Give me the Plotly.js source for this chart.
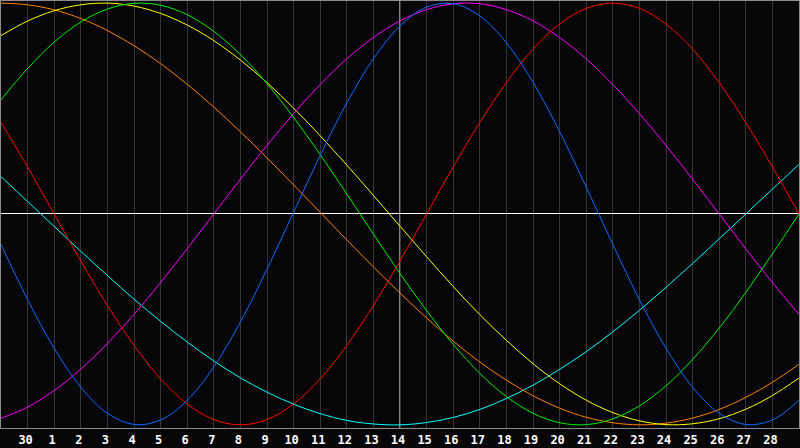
<!DOCTYPE html>
<html><head><meta charset="utf-8">
<script src="https://cdn.plot.ly/plotly-3.0.1.min.js"></script>
<style>html,body{margin:0;padding:0;background:#060608;overflow:hidden}#chart{width:800px;height:448px}</style>
</head><body><div id="chart"></div>
<script>
// day positions (0..30) and tick labels at positions 1..29
const dayIndex = [0,1,2,3,4,5,6,7,8,9,10,11,12,13,14,15,16,17,18,19,20,21,22,23,24,25,26,27,28,29,30];
const tickPositions = [1,2,3,4,5,6,7,8,9,10,11,12,13,14,15,16,17,18,19,20,21,22,23,24,25,26,27,28,29];
const tickLabels = ["30","1","2","3","4","5","6","7","8","9","10","11","12","13","14","15","16","17","18","19","20","21","22","23","24","25","26","27","28"];
const todayLabel = "14";

const physical = [-0.144,-0.406,-0.637,-0.822,-0.945,-0.998,-0.977,-0.884,-0.725,-0.512,-0.262,0.008,0.278,0.527,0.736,0.892,0.981,0.997,0.939,0.812,0.625,0.391,0.128,-0.144,-0.406,-0.637,-0.822,-0.945,-0.998,-0.977,-0.884];
const emotional = [0.434,0.223,0,-0.223,-0.434,-0.623,-0.782,-0.901,-0.975,-1,-0.975,-0.901,-0.782,-0.623,-0.434,-0.223,0,0.223,0.434,0.623,0.782,0.901,0.975,1,0.975,0.901,0.782,0.623,0.434,0.223,0];
const intellectual = [0.541,0.690,0.815,0.910,0.972,0.999,0.990,0.945,0.866,0.756,0.618,0.458,0.282,0.095,-0.095,-0.282,-0.458,-0.618,-0.756,-0.866,-0.945,-0.990,-0.999,-0.972,-0.910,-0.815,-0.690,-0.541,-0.372,-0.189,0];
const intuitive = [-0.969,-0.916,-0.837,-0.736,-0.614,-0.476,-0.325,-0.165,0,0.165,0.325,0.476,0.614,0.736,0.837,0.916,0.969,0.997,0.997,0.969,0.916,0.837,0.736,0.614,0.476,0.325,0.165,0,-0.165,-0.325,-0.476];
const aesthetic = [0.846,0.915,0.964,0.992,1.000,0.986,0.951,0.896,0.822,0.730,0.623,0.502,0.371,0.232,0.088,-0.058,-0.203,-0.344,-0.477,-0.599,-0.710,-0.805,-0.883,-0.942,-0.981,-0.999,-0.995,-0.971,-0.926,-0.861,-0.778];
const awareness = [1.000,0.992,0.968,0.927,0.870,0.798,0.713,0.615,0.507,0.390,0.266,0.138,0.008,-0.123,-0.251,-0.375,-0.493,-0.603,-0.702,-0.788,-0.862,-0.921,-0.964,-0.990,-1.000,-0.992,-0.968,-0.927,-0.870,-0.798,-0.713];
const spiritual = [0.177,0.059,-0.059,-0.177,-0.292,-0.404,-0.509,-0.607,-0.697,-0.777,-0.845,-0.902,-0.947,-0.979,-0.996,-1.000,-0.989,-0.965,-0.927,-0.875,-0.812,-0.737,-0.653,-0.559,-0.457,-0.348,-0.235,-0.118,0,0.118,0.235];

const seriesNames = ["Spiritual","Awareness","Aesthetic","Intuitive","Intellectual","Emotional","Physical"];
const seriesData = [spiritual, awareness, aesthetic, intuitive, intellectual, emotional, physical];
const seriesColors = ["#00ffff","#ff8000","#ffff00","#ff00ff","#00f000","#ff0000","#0a6cff"];

const traces = seriesData.map((ys, i) => ({
  x: dayIndex, y: ys, name: seriesNames[i], type: 'scatter', mode: 'lines',
  line: {color: seriesColors[i], width: 1, shape: 'spline', smoothing: 1},
  hoverinfo: 'skip'
}));

const todayPos = tickPositions[tickLabels.indexOf(todayLabel)];

const layout = {
  width: 800, height: 448,
  margin: {l: 1, r: 1, t: 1, b: 20, pad: 0},
  paper_bgcolor: '#060608', plot_bgcolor: '#060608',
  showlegend: false,
  xaxis: {
    range: [0, 30], tickmode: 'array', tickvals: tickPositions, ticktext: tickLabels,
    showgrid: true, gridcolor: '#363636', gridwidth: 1, zeroline: false,
    showline: true, mirror: true, linecolor: '#8c8c8c', linewidth: 1,
    ticks: '', ticklabelshift: -2, ticklabelstandoff: 1,
    tickfont: {family: 'DejaVu Sans Mono', size: 12, color: '#ffffff', weight: 'bold'},
    fixedrange: true
  },
  yaxis: {
    range: [-1.015, 1.01], showgrid: false, showticklabels: false, ticks: '',
    zeroline: true, zerolinecolor: '#ffffff', zerolinewidth: 1,
    showline: true, mirror: true, linecolor: '#8c8c8c', linewidth: 1,
    fixedrange: true
  },
  shapes: [{type: 'line', xref: 'x', yref: 'paper', x0: todayPos, x1: todayPos, y0: 0, y1: 1,
            line: {color: '#ffffff', width: 1}, layer: 'below'}]
};

Plotly.newPlot('chart', traces, layout, {staticPlot: true, displayModeBar: false});
</script>
</body></html>
